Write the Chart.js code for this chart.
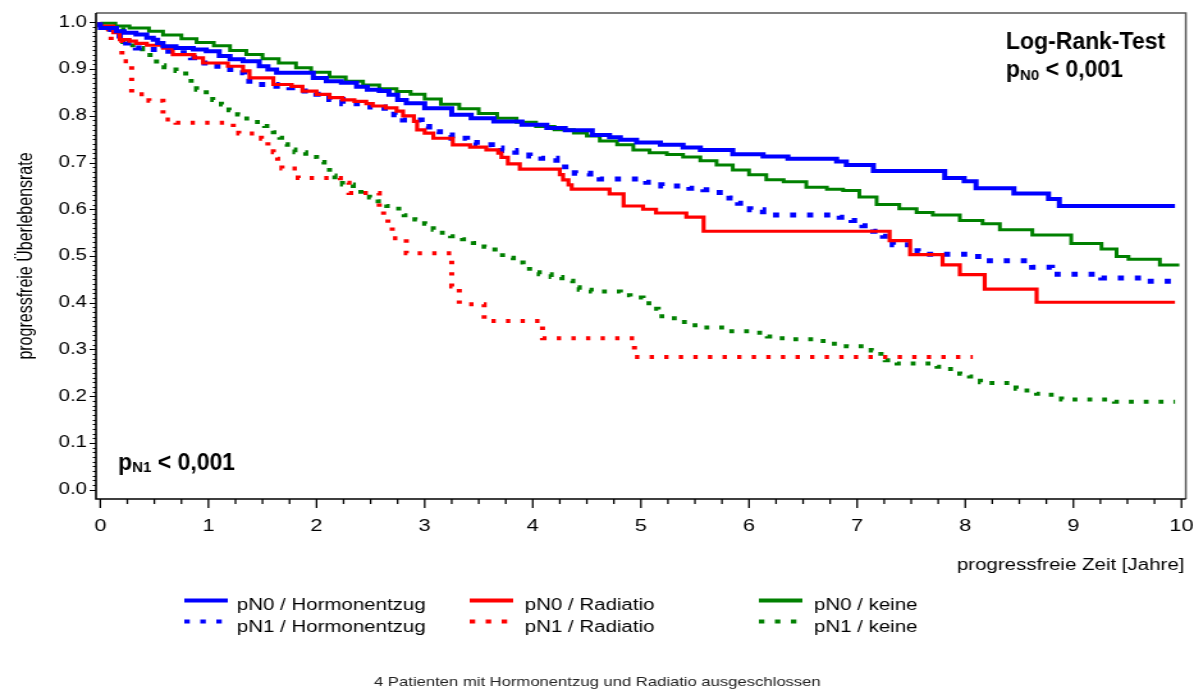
<!DOCTYPE html>
<html>
<head>
<meta charset="utf-8">
<title>progressfreie Überlebensrate</title>
<script src="https://cdn.jsdelivr.net/npm/chart.js@4.4.1/dist/chart.umd.min.js"></script>
<style>
  html, body { margin: 0; padding: 0; background: #fff; overflow: hidden; }
</style>
</head>
<body>
<!-- the source picture is stretched sideways, so the canvas is drawn narrow and widened by css -->
<canvas id="chart" width="933" height="689" style="width:1194px;height:689px"></canvas>
<script>
// Kaplan-Meier steps: time (years) -> survival after the step
const hormonN0Time = [0, 0.15, 0.22, 0.33, 0.43, 0.49, 0.53, 0.58, 0.70, 0.86, 0.98, 1.10, 1.20, 1.32, 1.47, 1.55, 1.63, 1.97, 2.09, 2.23, 2.37, 2.47, 2.58, 2.67, 2.75, 2.83, 3.00, 3.25, 3.43, 3.64, 3.90, 4.13, 4.30, 4.55, 4.71, 4.81, 4.96, 5.18, 5.39, 5.55, 5.85, 6.13, 6.36, 6.81, 6.90, 7.15, 7.81, 7.99, 8.10, 8.45, 8.77, 8.87, 9.48, 9.94];
const hormonN0Surv = [1.0, 0.988, 0.981, 0.978, 0.974, 0.967, 0.963, 0.956, 0.949, 0.945, 0.942, 0.938, 0.928, 0.921, 0.917, 0.906, 0.899, 0.892, 0.881, 0.874, 0.871, 0.862, 0.856, 0.853, 0.845, 0.834, 0.827, 0.816, 0.802, 0.795, 0.788, 0.781, 0.774, 0.769, 0.759, 0.754, 0.749, 0.743, 0.738, 0.732, 0.727, 0.718, 0.713, 0.708, 0.702, 0.695, 0.682, 0.667, 0.660, 0.645, 0.634, 0.622, 0.607, 0.607];

const radN0Time = [0, 0.12, 0.18, 0.27, 0.33, 0.43, 0.58, 0.67, 0.87, 0.95, 1.18, 1.32, 1.38, 1.60, 1.77, 1.87, 2.00, 2.12, 2.24, 2.35, 2.46, 2.52, 2.64, 2.74, 2.80, 2.90, 2.93, 3.00, 3.08, 3.26, 3.42, 3.57, 3.68, 3.71, 3.77, 3.88, 4.25, 4.28, 4.33, 4.36, 4.71, 4.84, 5.02, 5.14, 5.42, 5.58, 7.30, 7.49, 7.79, 7.95, 8.18, 8.66, 8.94, 9.94];
const radN0Surv = [1.0, 0.992, 0.978, 0.963, 0.960, 0.955, 0.951, 0.945, 0.931, 0.924, 0.913, 0.906, 0.896, 0.881, 0.867, 0.863, 0.853, 0.846, 0.839, 0.834, 0.831, 0.826, 0.821, 0.817, 0.810, 0.800, 0.788, 0.770, 0.763, 0.752, 0.738, 0.733, 0.727, 0.720, 0.711, 0.697, 0.686, 0.674, 0.663, 0.652, 0.643, 0.633, 0.607, 0.600, 0.592, 0.583, 0.553, 0.533, 0.503, 0.481, 0.460, 0.429, 0.401, 0.401];

const keineN0Time = [0, 0.14, 0.27, 0.45, 0.58, 0.75, 0.89, 1.05, 1.20, 1.35, 1.50, 1.65, 1.81, 1.95, 2.12, 2.27, 2.43, 2.58, 2.74, 2.87, 3.00, 3.15, 3.32, 3.50, 3.67, 3.85, 4.03, 4.20, 4.38, 4.50, 4.62, 4.78, 4.93, 5.08, 5.24, 5.39, 5.55, 5.70, 5.85, 6.00, 6.16, 6.32, 6.53, 6.72, 6.87, 7.02, 7.18, 7.39, 7.55, 7.70, 7.95, 8.16, 8.32, 8.62, 8.98, 9.26, 9.40, 9.51, 9.80, 9.98];
const keineN0Surv = [1.0, 0.998, 0.992, 0.988, 0.981, 0.973, 0.965, 0.957, 0.950, 0.940, 0.931, 0.922, 0.913, 0.903, 0.893, 0.883, 0.874, 0.866, 0.858, 0.852, 0.846, 0.836, 0.825, 0.815, 0.805, 0.795, 0.786, 0.777, 0.770, 0.763, 0.757, 0.746, 0.738, 0.727, 0.721, 0.717, 0.712, 0.704, 0.695, 0.684, 0.674, 0.663, 0.659, 0.647, 0.643, 0.640, 0.626, 0.610, 0.601, 0.593, 0.588, 0.576, 0.569, 0.556, 0.545, 0.527, 0.515, 0.499, 0.493, 0.481];

const hormonN1Time = [0, 0.10, 0.18, 0.24, 0.33, 0.44, 0.58, 0.70, 0.84, 0.93, 1.04, 1.15, 1.24, 1.33, 1.43, 1.63, 1.75, 1.89, 2.00, 2.12, 2.24, 2.50, 2.63, 2.72, 2.80, 2.97, 3.04, 3.14, 3.25, 3.39, 3.48, 3.62, 3.71, 3.84, 3.97, 4.08, 4.22, 4.30, 4.39, 4.53, 4.62, 5.05, 5.19, 5.45, 5.58, 5.70, 5.82, 5.90, 6.01, 6.13, 6.84, 6.95, 7.05, 7.15, 7.24, 7.33, 7.56, 7.64, 8.07, 8.19, 8.62, 8.80, 9.26, 9.66, 9.92, 9.96];
const hormonN1Surv = [1.0, 0.988, 0.978, 0.963, 0.956, 0.945, 0.942, 0.938, 0.935, 0.924, 0.913, 0.906, 0.899, 0.892, 0.874, 0.867, 0.863, 0.860, 0.853, 0.846, 0.835, 0.826, 0.819, 0.810, 0.802, 0.791, 0.777, 0.766, 0.759, 0.752, 0.743, 0.738, 0.731, 0.726, 0.722, 0.714, 0.709, 0.699, 0.684, 0.677, 0.670, 0.665, 0.658, 0.650, 0.645, 0.642, 0.636, 0.624, 0.613, 0.599, 0.588, 0.583, 0.576, 0.565, 0.553, 0.542, 0.524, 0.510, 0.504, 0.499, 0.490, 0.476, 0.461, 0.453, 0.446, 0.446];

const radN1Time = [0, 0.10, 0.20, 0.29, 0.45, 0.58, 0.70, 1.23, 1.28, 1.49, 1.55, 1.60, 1.64, 1.68, 1.83, 2.22, 2.30, 2.58, 2.62, 2.66, 2.70, 2.83, 3.25, 3.32, 3.55, 4.09, 4.94, 5.32, 8.07];
const radN1Surv = [1.0, 0.985, 0.960, 0.917, 0.846, 0.832, 0.792, 0.785, 0.772, 0.762, 0.751, 0.735, 0.722, 0.708, 0.687, 0.667, 0.657, 0.635, 0.600, 0.585, 0.570, 0.538, 0.506, 0.435, 0.397, 0.361, 0.324, 0.284, 0.284];

const keineN1Time = [0, 0.21, 0.30, 0.39, 0.46, 0.52, 0.59, 0.70, 0.79, 0.84, 0.89, 0.98, 1.04, 1.12, 1.19, 1.27, 1.33, 1.43, 1.52, 1.60, 1.66, 1.70, 1.73, 1.80, 1.90, 2.00, 2.07, 2.12, 2.17, 2.24, 2.34, 2.41, 2.49, 2.57, 2.65, 2.76, 2.81, 2.91, 3.00, 3.08, 3.14, 3.24, 3.35, 3.45, 3.55, 3.65, 3.72, 3.82, 3.91, 3.97, 4.06, 4.17, 4.27, 4.37, 4.43, 4.54, 4.81, 4.90, 5.02, 5.10, 5.16, 5.22, 5.34, 5.44, 5.53, 5.79, 6.02, 6.17, 6.26, 6.36, 6.63, 6.76, 6.90, 7.13, 7.22, 7.26, 7.37, 7.74, 7.84, 7.95, 8.04, 8.14, 8.20, 8.47, 8.53, 8.66, 8.75, 8.89, 9.38, 9.94];
const keineN1Surv = [1.0, 0.985, 0.958, 0.945, 0.935, 0.924, 0.908, 0.904, 0.896, 0.881, 0.869, 0.856, 0.846, 0.834, 0.824, 0.812, 0.803, 0.794, 0.787, 0.778, 0.765, 0.753, 0.739, 0.728, 0.722, 0.712, 0.701, 0.689, 0.672, 0.664, 0.653, 0.642, 0.632, 0.625, 0.617, 0.607, 0.593, 0.587, 0.578, 0.569, 0.556, 0.550, 0.542, 0.536, 0.528, 0.520, 0.508, 0.496, 0.486, 0.478, 0.465, 0.461, 0.455, 0.447, 0.433, 0.428, 0.424, 0.416, 0.411, 0.399, 0.387, 0.371, 0.367, 0.359, 0.352, 0.347, 0.339, 0.336, 0.328, 0.324, 0.322, 0.318, 0.312, 0.307, 0.298, 0.283, 0.277, 0.270, 0.263, 0.258, 0.248, 0.242, 0.230, 0.228, 0.216, 0.212, 0.205, 0.203, 0.193, 0.188];

const seriesLabels = ['pN0 / Hormonentzug', 'pN0 / Radiatio', 'pN0 / keine', 'pN1 / Hormonentzug', 'pN1 / Radiatio', 'pN1 / keine'];
const xTickValues = [0, 1, 2, 3, 4, 5, 6, 7, 8, 9, 10];
const xTickLabels = ['0', '1', '2', '3', '4', '5', '6', '7', '8', '9', '10'];
const yTickValues = [0, 0.1, 0.2, 0.3, 0.4, 0.5, 0.6, 0.7, 0.8, 0.9, 1.0];
const yTickLabels = ['0.0', '0.1', '0.2', '0.3', '0.4', '0.5', '0.6', '0.7', '0.8', '0.9', '1.0'];

const FONT = '"Liberation Sans", Arial, Helvetica, sans-serif';
const SX = 1194 / 933; // css stretch of the canvas

function steps(times, surv) {
  return times.map((t, i) => ({ x: t, y: surv[i] }));
}

function curve(label, times, surv, color, width, dash) {
  return {
    label: label,
    data: steps(times, surv),
    borderColor: color,
    borderWidth: width,
    borderDash: dash,
    stepped: 'after',
    pointRadius: 0,
    fill: false
  };
}

// ticks, frame, legend and the text that sits round the plot
const decorations = {
  id: 'decorations',
  afterDraw(chart) {
    const { ctx, chartArea: a, scales: { x, y } } = chart;
    ctx.save();

    // frame
    ctx.lineWidth = 1.5;
    ctx.strokeStyle = '#555';
    ctx.beginPath();
    ctx.moveTo(a.left, a.top); ctx.lineTo(a.right, a.top); ctx.lineTo(a.right, a.bottom);
    ctx.stroke();
    ctx.strokeStyle = '#000';
    ctx.lineWidth = 1.6;
    ctx.beginPath();
    ctx.moveTo(a.left, a.top); ctx.lineTo(a.left, a.bottom); ctx.lineTo(a.right, a.bottom);
    ctx.stroke();

    // x ticks every quarter year
    ctx.lineWidth = 1.3;
    ctx.beginPath();
    for (let i = 0; i <= 40; i++) {
      const px = x.getPixelForValue(i / 4);
      ctx.moveTo(px, a.bottom);
      ctx.lineTo(px, a.bottom + (i % 4 === 0 ? 9 : 5));
    }
    ctx.stroke();
    // y ticks every 0.01
    ctx.lineWidth = 1;
    ctx.beginPath();
    for (let i = 0; i <= 100; i++) {
      const py = Math.round(y.getPixelForValue(i / 100)) + 0.5;
      ctx.moveTo(a.left, py);
      ctx.lineTo(a.left - (i % 10 === 0 ? 5 : 2.5), py);
    }
    ctx.stroke();

    // legend, 3 columns x 2 rows
    const colLine = [144, 367, 593];
    const colText = [185, 410, 636];
    const rowLine = [600.5, 621.5];
    const rowText = [610, 632];
    ctx.font = '16px ' + FONT;
    ctx.fillStyle = '#000';
    ctx.textBaseline = 'alphabetic';
    ctx.textAlign = 'left';
    chart.data.datasets.forEach((ds, i) => {
      const c = i % 3, r = Math.floor(i / 3);
      ctx.strokeStyle = ds.borderColor;
      ctx.lineWidth = 4;
      ctx.setLineDash(ds.borderDash.length ? [4.3, 8.2] : []);
      ctx.beginPath();
      ctx.moveTo(colLine[c], rowLine[r]);
      ctx.lineTo(colLine[c] + 34, rowLine[r]);
      ctx.stroke();
      ctx.fillText(ds.label, colText[c], rowText[r]);
    });
    ctx.setLineDash([]);

    // axis title at the bottom right
    ctx.textAlign = 'right';
    ctx.fillText('progressfreie Zeit [Jahre]', 925.5, 570);

    // footnote
    ctx.font = '13px ' + FONT;
    ctx.fillStyle = '#222';
    ctx.textAlign = 'center';
    ctx.fillText('4 Patienten mit Hormonentzug und Radiatio ausgeschlossen', 466.8, 686);

    // bold notes were not stretched in the source, so undo the css stretch
    ctx.fillStyle = '#000';
    boldLine(ctx, 786, 48.5, [['Log-Rank-Test', 23, 0]]);
    boldLine(ctx, 786, 77, [['p', 23, 0], ['N0', 15, 2.5], [' < 0,001', 23, 0]]);
    boldLine(ctx, 92.2, 469.5, [['p', 23, 0], ['N1', 15, 2.5], [' < 0,001', 23, 0]]);

    ctx.restore();
  }
};

function boldLine(ctx, x, y, parts) {
  ctx.save();
  ctx.translate(x, y);
  ctx.scale(1 / SX, 1);
  ctx.textAlign = 'left';
  let cx = 0;
  for (const [txt, size, dy] of parts) {
    ctx.font = 'bold ' + size + 'px ' + FONT;
    ctx.fillText(txt, cx, dy);
    cx += ctx.measureText(txt).width;
  }
  ctx.restore();
}

const ctx = document.getElementById('chart').getContext('2d');
new Chart(ctx, {
  type: 'line',
  data: {
    datasets: [
      curve(seriesLabels[0], hormonN0Time, hormonN0Surv, '#0000ff', 4, []),
      curve(seriesLabels[1], radN0Time, radN0Surv, '#ff0000', 3.2, []),
      curve(seriesLabels[2], keineN0Time, keineN0Surv, '#008000', 3, []),
      curve(seriesLabels[3], hormonN1Time, hormonN1Surv, '#0000ff', 5, [4.8, 8.5]),
      curve(seriesLabels[4], radN1Time, radN1Surv, '#ff0000', 4, [3.4, 8]),
      curve(seriesLabels[5], keineN1Time, keineN1Surv, '#008000', 4, [3.8, 7.8])
    ]
  },
  options: {
    responsive: false,
    animation: false,
    devicePixelRatio: 1,
    layout: { padding: { left: 0, right: 6.4, top: 13, bottom: 150 } },
    plugins: {
      legend: { display: false },
      tooltip: { enabled: false }
    },
    scales: {
      x: {
        type: 'linear',
        min: -0.04,
        max: 10.04,
        grid: { display: false, drawTicks: false },
        border: { display: false },
        afterBuildTicks: s => { s.ticks = xTickValues.map(v => ({ value: v })); },
        afterFit: s => { s.height = 40; s.paddingLeft = 0; s.paddingRight = 0; },
        ticks: {
          autoSkip: false,
          maxRotation: 0,
          padding: 17,
          color: '#000',
          font: { family: FONT, size: 17 },
          callback: (v, i) => xTickLabels[i]
        }
      },
      y: {
        min: -0.02,
        max: 1.02,
        grid: { display: false, drawTicks: false },
        border: { display: false },
        afterBuildTicks: s => { s.ticks = yTickValues.map(v => ({ value: v })); },
        afterFit: s => { s.width = 75; s.paddingTop = 0; s.paddingBottom = 0; },
        ticks: {
          padding: 7,
          color: '#000',
          font: { family: FONT, size: 16 },
          callback: (v, i) => yTickLabels[i]
        },
        title: {
          display: true,
          text: 'progressfreie Überlebensrate',
          color: '#000',
          font: { family: FONT, size: 16 },
          padding: { top: 11, bottom: 0 }
        }
      }
    }
  },
  plugins: [decorations]
});
</script>
</body>
</html>
